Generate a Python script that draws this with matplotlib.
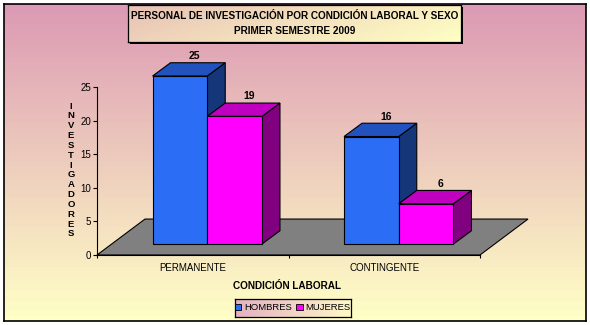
import numpy as np
import matplotlib

matplotlib.use("Agg")
import matplotlib.pyplot as plt
from matplotlib.colors import LinearSegmentedColormap
from matplotlib.patches import Patch, Polygon, Rectangle

CATEGORIES = ["PERMANENTE", "CONTINGENTE"]
SERIES = ["HOMBRES", "MUJERES"]
HOMBRES = [25, 16]
MUJERES = [19, 6]
Y_TICKS = [0, 5, 10, 15, 20, 25]
TITLE_LINES = ["PERSONAL DE INVESTIGACIÓN POR CONDICIÓN LABORAL Y SEXO", "PRIMER SEMESTRE 2009"]
X_TITLE = "CONDICIÓN LABORAL"
Y_TITLE = "INVESTIGADORES"

# front, top, side face colours per series
FACES = {
    "HOMBRES": ("#2B6EF5", "#2152BE", "#15377A"),
    "MUJERES": ("#FF00FF", "#C000C0", "#800080"),
}

FONT = ["Liberation Sans", "DejaVu Sans"]

# fake-3d geometry in data units (x: category width = 1, y: value units)
BAR_W = 0.2857
BASE_DX, BASE_DY = 0.0757, 1.63
BAR_DX, BAR_DY = 0.094, 1.98
FLOOR_DX, FLOOR_DY = 0.2507, 5.35

W, H = 590, 325


def fig_rect(x0, y0, x1, y1):
    # pixel box (top-left origin) -> figure fraction [l, b, w, h]
    return [x0 / W, (H - y1) / H, (x1 - x0) / W, (y1 - y0) / H]


def gradient_axes(fig, rect, c0, c1, wx, wy, zorder, lw=0.9):
    gax = fig.add_axes(rect, zorder=zorder)
    cmap = LinearSegmentedColormap.from_list("g", [c0, c1])
    xx, yy = np.meshgrid(np.linspace(0, 1, 64), np.linspace(0, 1, 64))
    gax.imshow(wx * xx + wy * yy, cmap=cmap, aspect="auto", extent=(0, 1, 0, 1), origin="upper", vmin=0, vmax=1)
    gax.set_xticks([])
    gax.set_yticks([])
    for sp in gax.spines.values():
        sp.set_linewidth(lw)
        sp.set_color("black")
    return gax


def draw_box(ax, x0, value, front, top, side):
    by = BASE_DY
    ty = by + value
    kw = dict(edgecolor="black", linewidth=0.8, clip_on=False, zorder=3)
    ax.add_patch(Polygon([(x0 + BAR_W, by), (x0 + BAR_W + BAR_DX, by + BAR_DY),
                          (x0 + BAR_W + BAR_DX, ty + BAR_DY), (x0 + BAR_W, ty)], facecolor=side, **kw))
    ax.add_patch(Polygon([(x0, ty), (x0 + BAR_W, ty), (x0 + BAR_W + BAR_DX, ty + BAR_DY),
                          (x0 + BAR_DX, ty + BAR_DY)], facecolor=top, **kw))
    ax.add_patch(Polygon([(x0, by), (x0 + BAR_W, by), (x0 + BAR_W, ty), (x0, ty)], facecolor=front, **kw))
    ax.text(x0 + BAR_W / 2 + BAR_DX * 0.8, ty + BAR_DY + 1.0, f"{value}", ha="center", va="center",
            fontsize=7.5, fontweight="bold", family=FONT, zorder=4)


fig = plt.figure(figsize=(W / 100, H / 100), dpi=100)

# chart area background
gradient_axes(fig, fig_rect(4, 4, 586, 321), "#DC9AB4", "#FFFFC6", 0.0, 1.0, zorder=0, lw=1.2)

ax = fig.add_axes(fig_rect(97, 87, 480, 255), zorder=2)
ax.patch.set_visible(False)
ax.set_xlim(0, len(CATEGORIES))
ax.set_ylim(0, 25)

n = len(CATEGORIES)
ax.add_patch(Polygon([(0, 0), (n, 0), (n + FLOOR_DX, FLOOR_DY), (FLOOR_DX, FLOOR_DY)],
                     facecolor="#808080", edgecolor="black", linewidth=0.8, clip_on=False, zorder=1))

series_values = {"HOMBRES": HOMBRES, "MUJERES": MUJERES}
for ci in range(n):
    left = ci + 0.5 - BAR_W + BASE_DX
    for si, name in enumerate(SERIES):
        draw_box(ax, left + si * BAR_W, series_values[name][ci], *FACES[name])

for side in ("top", "right"):
    ax.spines[side].set_visible(False)
ax.spines["left"].set_linewidth(0.8)
ax.spines["bottom"].set_linewidth(0.8)
ax.spines["bottom"].set_zorder(5)
ax.set_yticks(Y_TICKS)
ax.set_yticklabels([str(t) for t in Y_TICKS], family=FONT, fontsize=7)
ax.set_xticks(range(n + 1))
ax.set_xticklabels([])
ax.set_xticks([i + 0.5 for i in range(n)], minor=True)
ax.set_xticklabels(CATEGORIES, minor=True, family=FONT, fontsize=7)
ax.tick_params(axis="y", length=2.8, width=0.8, pad=1.5)
ax.tick_params(axis="x", which="major", length=2.5, width=0.8)
ax.tick_params(axis="x", which="minor", length=0, pad=6)

fig.text(287 / W, (H - 286) / H, X_TITLE, ha="center", va="center", fontsize=7.2,
         fontweight="bold", family=FONT)
fig.text(71 / W, (H - 170) / H, "\n".join(Y_TITLE), ha="center", va="center", fontsize=6.8,
         fontweight="bold", family=FONT, linespacing=1.12)

# title box with shadow
fig.patches.append(Rectangle(((128 + 2) / W, (H - 42 - 2) / H), 333 / W, 37 / H, transform=fig.transFigure,
                             facecolor="black", edgecolor="none", zorder=3))
tax = gradient_axes(fig, fig_rect(128, 5, 461, 42), "#E8C2B6", "#FFFFC4", 0.75, 0.25, zorder=4)
tax.text(0.5, 0.71, TITLE_LINES[0], transform=tax.transAxes, ha="center", va="center",
         fontsize=7.2, fontweight="bold", family=FONT)
tax.text(0.5, 0.30, TITLE_LINES[1], transform=tax.transAxes, ha="center", va="center",
         fontsize=7.2, fontweight="bold", family=FONT)

# legend box
lax = gradient_axes(fig, fig_rect(235, 299, 351, 317), "#E2B2C2", "#FFF8C8", 1.0, 0.0, zorder=4)
handles = [Patch(facecolor=FACES[s][0], edgecolor="black", linewidth=0.6) for s in SERIES]
lax.legend(handles, SERIES, loc="center", frameon=False, ncol=2, handlelength=0.65,
           handleheight=0.65, handletextpad=0.3, columnspacing=0.45, borderpad=0, borderaxespad=0,
           prop={"family": FONT, "size": 6.8})

fig.savefig("out.png", dpi=100)
